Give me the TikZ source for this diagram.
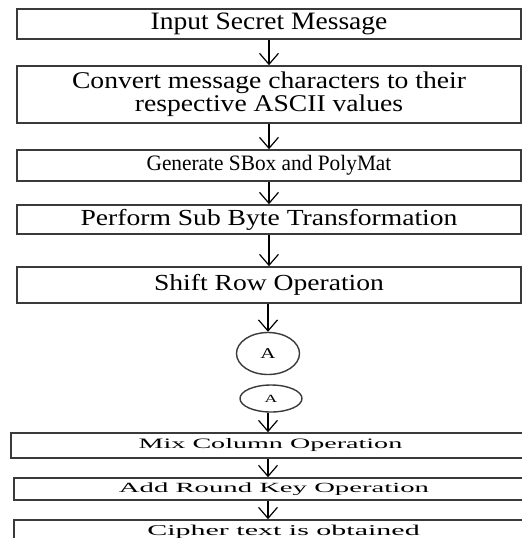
\documentclass[tikz,border=0pt]{standalone}
\usepackage{fontspec}
\setmainfont{Liberation Serif}
\usepackage{graphicx}
\usepackage{tikz}
\usetikzlibrary{arrows.meta,positioning,shapes.geometric}
\definecolor{edge}{HTML}{3A3A3A}
\newcommand{\wtxt}[3]{\scalebox{#2}[1]{\fontsize{#1}{#1}\selectfont #3}}
\tikzset{
  stage/.style={draw=edge,line width=0.8pt,inner sep=0pt,align=center},
  joint/.style={draw=edge,ellipse,line width=0.7pt,inner sep=0pt},
  arr/.style={-{Straight Barb[length=5.5pt,width=9.5pt]},line width=0.6pt}
}
\begin{document}
\begin{tikzpicture}
  \useasboundingbox (0,0) rectangle (261pt,-269pt);
  \clip (0,0) rectangle (261pt,-269pt);
  \node[stage,minimum width=252pt,minimum height=15pt] (b1) at (134.5pt,-12pt) {\wtxt{12.5}{1.1}{Input Secret Message}};
  \node[stage,minimum width=252pt,minimum height=28.5pt] (b2) at (134.5pt,-47.25pt) {\scalebox{1.15}[1]{\fontsize{12}{10}\selectfont\begin{tabular}{@{}c@{}}Convert message characters to their\\respective ASCII values\end{tabular}}};
  \node[stage,minimum width=252pt,minimum height=15.5pt] (b3) at (134.5pt,-82.75pt) {\wtxt{11}{0.97}{Generate SBox and PolyMat}};
  \node[stage,minimum width=252pt,minimum height=14.5pt] (b4) at (134.5pt,-109.75pt) {\wtxt{11.5}{1.2}{Perform Sub Byte Transformation}};
  \node[stage,minimum width=252pt,minimum height=18pt] (b5) at (134.5pt,-142.5pt) {\wtxt{11.5}{1.2}{Shift Row Operation}};
  \node[joint,minimum width=31.5pt,minimum height=21pt] (c1) at (134pt,-176.75pt) {\wtxt{7.5}{1.4}{A}};
  \node[joint,minimum width=31pt,minimum height=13.5pt] (c2) at (135.5pt,-199.25pt) {\wtxt{5.5}{1.6}{A}};
  \node[stage,minimum width=259.5pt,minimum height=12.5pt] (b6) at (135.25pt,-222.75pt) {\wtxt{7.2}{1.95}{Mix Column Operation}};
  \node[stage,minimum width=260pt,minimum height=11pt] (b7) at (137pt,-244.5pt) {\wtxt{7}{2.05}{Add Round Key Operation}};
  \node[stage,minimum width=269.5pt,minimum height=12pt] (b8) at (141.75pt,-266pt) {\wtxt{7.5}{2}{Cipher text is obtained}};
  \draw[arr] (b1) -- (b2);
  \draw[arr] (b2) -- (b3);
  \draw[arr] (b3) -- (b4);
  \draw[arr] (b4) -- (b5);
  \draw[arr] (b5.south -| c1) -- (c1);
  \draw[arr] (c2.south -| c1) -- (b6.north -| c1);
  \draw[arr] (b6.south -| c1) -- (b7.north -| c1);
  \draw[arr] (b7.south -| c1) -- (b8.north -| c1);
\end{tikzpicture}
\end{document}
